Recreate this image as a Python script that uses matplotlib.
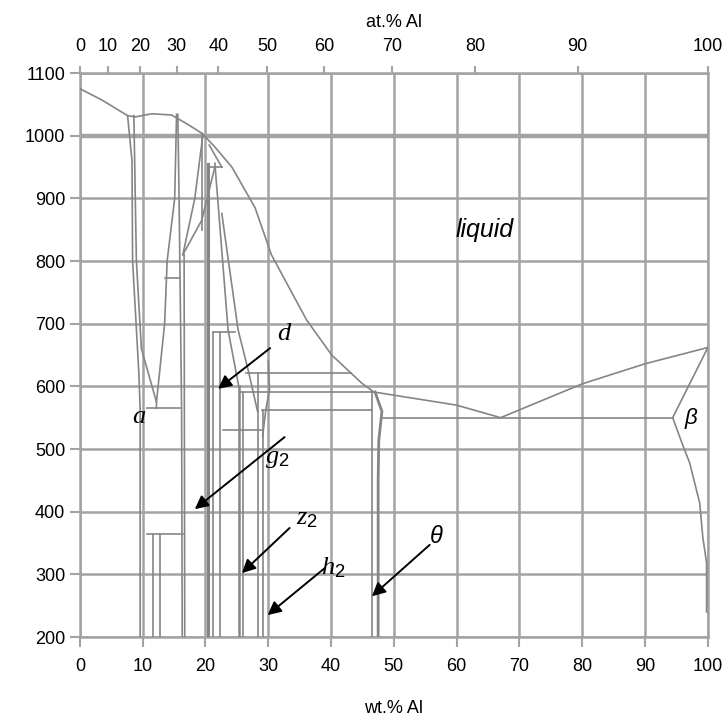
import numpy as np
import matplotlib.pyplot as plt

plt.rcParams['font.family'] = ['Liberation Sans', 'DejaVu Sans']
plt.rcParams['mathtext.fontset'] = 'custom'
plt.rcParams['mathtext.it'] = 'Liberation Serif:italic'
plt.rcParams['mathtext.rm'] = 'Liberation Sans'

# axes ticks
wt_ticks = list(range(0, 101, 10))
T_ticks = list(range(200, 1101, 100))
at_ticks = list(range(0, 101, 10))

# liquidus (wt.% Al, deg C)
liq_cu_wt = [0, 3.5, 7.6, 8.8, 11.5, 14.6, 17.2, 19.4, 21.5, 24.2, 27.9, 30.5, 36.1, 40.1, 44.9, 46.8]
liq_cu_T = [1075, 1057, 1032, 1030, 1035, 1033, 1018, 1004, 982, 950, 885, 810, 706, 650, 605, 591]
liq_al_wt = [46.8, 60.0, 67.0, 80.0, 90.0, 100.0]
liq_al_T = [591, 570, 550, 604, 636, 662]

# eutectic and Al-rich side
eut_wt = [48.1, 94.4]
eut_T = [550, 550]
al_solvus_wt = [100, 94.4, 95.9, 97.1, 98.7, 99.2, 99.8, 99.8]
al_solvus_T = [662, 550, 509, 478, 414, 359, 318, 240]

# theta phase
theta_l_wt = [46.5, 46.5]
theta_l_T = [591, 200]
theta_r_wt = [47.0, 48.1, 47.6, 47.5, 47.5]
theta_r_T = [591, 560, 514, 450, 200]

# isotherms reaching theta
iso621_wt = [26.4, 43.2]
iso591_wt = [25.5, 46.8]
iso562_wt = [29.0, 46.5]
iso530_wt = [22.8, 29.1]

# Cu-rich side
alpha_wt = [7.6, 8.3, 8.4, 8.9, 9.4, 9.6, 9.6]
alpha_T = [1032, 960, 800, 710, 620, 565, 200]
beta_l_wt = [8.6, 9.0, 9.8, 12.2, 12.2]
beta_l_T = [1032, 800, 660, 575, 565]
beta_r_wt = [15.4, 15.1, 13.9, 13.5, 12.2]
beta_r_T = [1034, 900, 800, 700, 575]
eutectoid_wt = [10.7, 15.9]
tie773_wt = [13.6, 15.9]
alpha2_wt = [10.7, 16.4]
alpha2_l_wt = [11.6, 11.6]
alpha2_r_wt = [12.7, 12.7]
gamma_l_wt = [15.6, 15.8, 16.2, 16.3]
gamma_l_T = [1034, 900, 565, 200]
gamma_l2_wt = [16.6, 16.7]
gamma_l2_T = [810, 200]
gamma1_a_wt = [16.4, 19.4, 21.5]
gamma1_a_T = [810, 865, 950]
gamma1_b_wt = [16.4, 18.3, 19.6]
gamma1_b_T = [810, 900, 1002]
gamma1_c_wt = [19.4, 19.4]
gamma1_c_T = [1004, 850]
delta_a_wt = [20.4, 20.4]
delta_a_T = [955, 200]
delta_b_wt = [21.2, 21.2]
delta_c_wt = [22.3, 22.3]
delta_top_wt = [21.2, 24.7]
eps950_wt = [20.4, 22.6]
eps_sol_wt = [20.6, 22.6]
eps_sol_T = [985, 950]
eps_a_wt = [21.5, 23.6, 25.3]
eps_a_T = [956, 690, 600]
eps_b_wt = [22.6, 25.2, 26.8, 28.3]
eps_b_T = [876, 690, 626, 560]
eps_c_wt = [30.0, 30.2, 29.6, 29.1]
eps_c_T = [640, 595, 562, 520]
zeta_a_wt = [25.3, 25.3]
zeta_a_T = [600, 200]
zeta_b_wt = [26.0, 26.0]
zeta_b_T = [591, 200]
eta_a_wt = [28.3, 28.3]
eta_a_T = [621, 200]
eta_b_wt = [29.1, 29.1]
eta_b_T = [562, 200]

# labels and arrows (wt.% Al, deg C)
arrow_labels = [r'$d$', r'$g_2$', r'$z_2$', r'$h_2$', 'θ']
arrow_tail_wt = [30.3, 32.6, 33.4, 39.0, 55.7]
arrow_tail_T = [661, 519, 374, 310, 347]
arrow_head_wt = [22.0, 18.3, 25.8, 29.9, 46.5]
arrow_head_T = [596, 404, 302, 235, 265]
label_wt = [32.6, 31.5, 36.2, 40.4, 56.8]
label_T = [685, 486, 390, 310, 360]


def wt_to_at(w):
    w = np.asarray(w, dtype=float)
    n_al = w / 26.98
    n_cu = (100 - w) / 63.55
    return 100 * n_al / (n_al + n_cu)


def at_to_wt(a):
    a = np.asarray(a, dtype=float)
    m_al = a * 26.98
    m_cu = (100 - a) * 63.55
    return 100 * m_al / (m_al + m_cu)


grid_col = '#a3a3a3'
line_col = '#858585'

fig = plt.figure(figsize=(7.26, 7.18), dpi=100)
ax = fig.add_axes([0.110, 0.1128, 0.865, 0.7855])
ax.set_xlim(0, 100)
ax.set_ylim(200, 1100)
ax.set_xticks(wt_ticks)
ax.set_yticks(T_ticks)
ax.grid(True, color=grid_col, lw=1.8, zorder=1)
ax.axhline(1000, color=grid_col, lw=3.2, zorder=1)
for sp in ax.spines.values():
    sp.set_color(grid_col)
    sp.set_linewidth(1.8)
ax.tick_params(axis='both', colors=grid_col, labelcolor='black', labelsize=13,
               length=7, width=1.5)
ax.tick_params(axis='x', pad=8)
ax.set_xlabel('wt.% Al', fontsize=13, labelpad=18)

kw = dict(color=line_col, lw=1.2, zorder=3)
ax.plot(liq_cu_wt, liq_cu_T, **kw)
ax.plot(liq_al_wt, liq_al_T, **kw)
ax.plot(eut_wt, eut_T, **kw)
ax.plot(al_solvus_wt, al_solvus_T, **kw)
ax.plot(theta_l_wt, theta_l_T, **kw)
ax.plot(theta_r_wt, theta_r_T, color=line_col, lw=2.0, zorder=3)
ax.plot(iso621_wt, [621, 621], **kw)
ax.plot(iso591_wt, [591, 591], **kw)
ax.plot(iso562_wt, [562, 562], **kw)
ax.plot(iso530_wt, [530, 530], **kw)
ax.plot(alpha_wt, alpha_T, **kw)
ax.plot(beta_l_wt, beta_l_T, **kw)
ax.plot(beta_r_wt, beta_r_T, **kw)
ax.plot(eutectoid_wt, [565, 565], **kw)
ax.plot(tie773_wt, [773, 773], **kw)
ax.plot(alpha2_wt, [365, 365], **kw)
ax.plot(alpha2_l_wt, [365, 200], **kw)
ax.plot(alpha2_r_wt, [365, 200], **kw)
ax.plot(gamma_l_wt, gamma_l_T, **kw)
ax.plot(gamma_l2_wt, gamma_l2_T, **kw)
ax.plot(gamma1_a_wt, gamma1_a_T, **kw)
ax.plot(gamma1_b_wt, gamma1_b_T, **kw)
ax.plot(gamma1_c_wt, gamma1_c_T, **kw)
ax.plot(delta_a_wt, delta_a_T, color=line_col, lw=2.2, zorder=3)
ax.plot(delta_b_wt, [686, 200], **kw)
ax.plot(delta_c_wt, [686, 200], **kw)
ax.plot(delta_top_wt, [686, 686], **kw)
ax.plot(eps950_wt, [950, 950], **kw)
ax.plot(eps_sol_wt, eps_sol_T, **kw)
ax.plot(eps_a_wt, eps_a_T, **kw)
ax.plot(eps_b_wt, eps_b_T, **kw)
ax.plot(eps_c_wt, eps_c_T, **kw)
ax.plot(zeta_a_wt, zeta_a_T, color=line_col, lw=1.8, zorder=3)
ax.plot(zeta_b_wt, zeta_b_T, **kw)
ax.plot(eta_a_wt, eta_a_T, **kw)
ax.plot(eta_b_wt, eta_b_T, **kw)

# arrows with labels
for lab, tx, ty, hx, hy, lx, ly in zip(arrow_labels, arrow_tail_wt, arrow_tail_T,
                                        arrow_head_wt, arrow_head_T, label_wt, label_T):
    ax.annotate('', xy=(hx, hy), xytext=(tx, ty),
                arrowprops=dict(arrowstyle='-|>', color='black', lw=1.4,
                                mutation_scale=20, shrinkA=0, shrinkB=0),
                zorder=5)
    if lab == 'θ':
        ax.text(lx, ly, lab, fontsize=17, style='italic', ha='center', va='center')
    else:
        ax.text(lx, ly, lab, fontsize=19, ha='center', va='center')

ax.text(64.5, 849, 'liquid', fontsize=18, style='italic', ha='center', va='center')
ax.text(9.4, 551, 'a', fontsize=19, style='italic', family='Liberation Serif',
        ha='center', va='center')
ax.text(97.3, 549, 'β', fontsize=16, style='italic', ha='center', va='center')

# top axis in at.%
sec = ax.secondary_xaxis('top', functions=(wt_to_at, at_to_wt))
sec.set_xticks(at_ticks)
sec.tick_params(colors=grid_col, labelcolor='black', labelsize=13, length=5,
                width=1.5, pad=8)
sec.spines['top'].set_color(grid_col)
sec.set_xlabel('at.% Al', fontsize=13, labelpad=8)

fig.savefig('out.png', dpi=100)
